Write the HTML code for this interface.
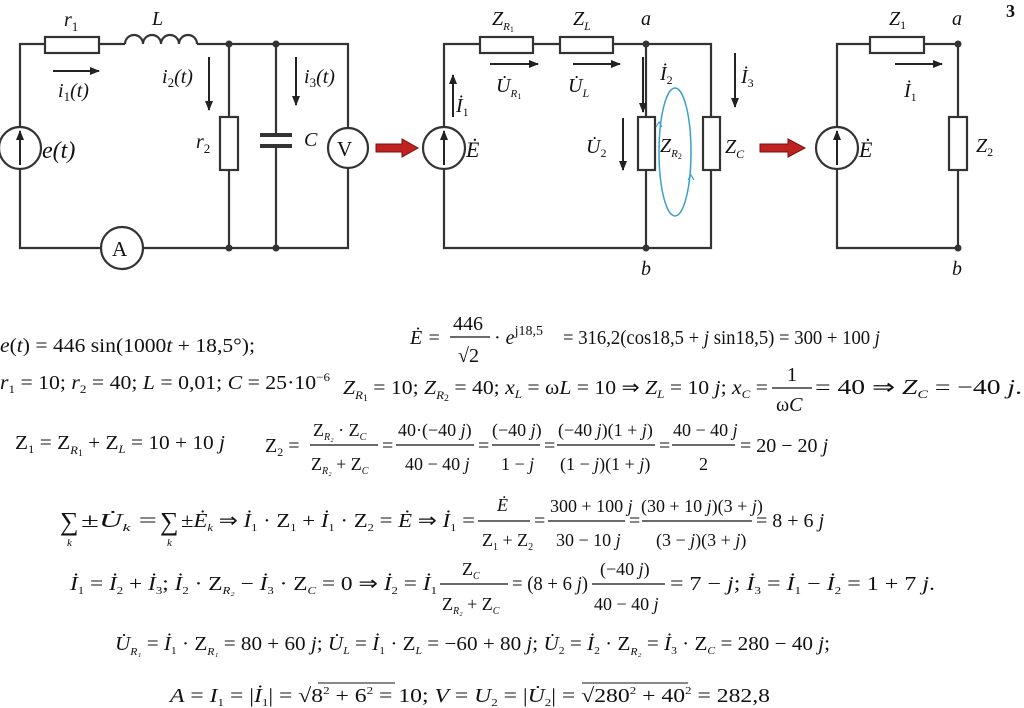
<!DOCTYPE html>
<html><head><meta charset="utf-8"><style>
html,body{margin:0;padding:0;background:#fff;}
svg{display:block;}
text{font-family:"Liberation Serif",serif;fill:#111;}
.i{font-style:italic;}
</style></head><body>
<svg width="1024" height="708" viewBox="0 0 1024 708" xmlns="http://www.w3.org/2000/svg">
<defs>
<marker id="ah" markerWidth="10" markerHeight="8" refX="9" refY="4" orient="auto" markerUnits="userSpaceOnUse"><path d="M0,0 L10,4 L0,8 Z" fill="#222"/></marker>
</defs>
<g stroke="#333" stroke-width="2.2" fill="none">
<path d="M20,127 V44 H45 M99,44 H125 M200,44 H348 V128 M348,168 V248 H143 M101,248 H20 V169"/>
<rect x="45" y="37" width="54" height="16" fill="#fff"/>
<path d="M125,44 a9,9 0 0 1 18,0 a9,9 0 0 1 18,0 a9,9 0 0 1 18,0 a9,9 0 0 1 18,0" />
<path d="M197,44 H200"/>
<path d="M229,44 V117 M229,170 V248 M276,44 V135 M276,146 V248"/>
<rect x="220" y="117" width="18" height="53" fill="#fff"/>
<path d="M260,135 H292 M260,146 H292" stroke-width="4"/>
<circle cx="20" cy="148" r="21" fill="#fff"/>
<circle cx="348" cy="148" r="20" fill="#fff"/>
<circle cx="122" cy="248" r="21" fill="#fff"/>
<path d="M444,127 V44 H480 M533,44 H560 M613,44 H711 V117 M711,170 V248 H444 V169 M646,44 V117 M646,170 V248"/>
<rect x="480" y="37" width="53" height="16" fill="#fff"/>
<rect x="560" y="37" width="53" height="16" fill="#fff"/>
<rect x="638" y="117" width="17" height="53" fill="#fff"/>
<rect x="703" y="117" width="17" height="53" fill="#fff"/>
<circle cx="444" cy="148" r="21" fill="#fff"/>
<path d="M837,127 V44 H870 M924,44 H958 V117 M958,170 V248 H837 V169"/>
<rect x="870" y="37" width="54" height="16" fill="#fff"/>
<rect x="949" y="117" width="18" height="53" fill="#fff"/>
<circle cx="837" cy="148" r="21" fill="#fff"/>
</g>
<g fill="#333">
<circle cx="229" cy="44" r="3.5"/><circle cx="276" cy="44" r="3.5"/><circle cx="229" cy="248" r="3.5"/><circle cx="276" cy="248" r="3.5"/>
<circle cx="646" cy="44" r="3.5"/><circle cx="646" cy="248" r="3.5"/><circle cx="958" cy="44" r="3.5"/><circle cx="958" cy="248" r="3.5"/>
</g>
<g stroke="#222" stroke-width="2" fill="none" marker-end="url(#ah)">
<path d="M20,165 V131"/><path d="M444,165 V131"/><path d="M837,165 V131"/>
<path d="M53,71 H99"/><path d="M209,57 V110"/><path d="M296,57 V105"/>
<path d="M453,117 V75"/><path d="M490,64 H538"/><path d="M573,64 H620"/>
<path d="M643,57 V112"/><path d="M735,53 V107"/><path d="M623,118 V170"/>
<path d="M895,64 H942"/>
</g>
<path d="M376,144 H402 V139 L418,148 L402,157 V152 H376 Z" fill="#c0221f" stroke="#7a1010" stroke-width="1"/>
<path d="M760,144 H788 V139 L805,148 L788,157 V152 H760 Z" fill="#c0221f" stroke="#7a1010" stroke-width="1"/>
<ellipse cx="675" cy="152" rx="16" ry="64" fill="none" stroke="#3aa0c8" stroke-width="1.5"/>
<path d="M656,127 l3,-5 l3,5" fill="none" stroke="#3aa0c8" stroke-width="1.2"/>
<path d="M688,180 l3,-5 l3,5" fill="none" stroke="#3aa0c8" stroke-width="1.2"/>

<g font-size="20">
<text x="64" y="26" class="i">r<tspan font-size="13" dy="5" font-style="normal">1</tspan></text>
<text x="152" y="25" class="i">L</text>
<text x="58" y="97" class="i">i<tspan font-size="13" dy="4" font-style="normal">1</tspan><tspan dy="-4">(t)</tspan></text>
<text x="162" y="83" class="i">i<tspan font-size="13" dy="4" font-style="normal">2</tspan><tspan dy="-4">(t)</tspan></text>
<text x="304" y="83" class="i">i<tspan font-size="13" dy="4" font-style="normal">3</tspan><tspan dy="-4">(t)</tspan></text>
<text x="196" y="148" class="i">r<tspan font-size="13" dy="5" font-style="normal">2</tspan></text>
<text x="304" y="146" class="i">C</text>
<text x="42" y="158" class="i" font-size="24">e(t)</text>
<text x="337" y="156" font-size="21">V</text>
<text x="112" y="256" font-size="21">A</text>
<text x="492" y="25" class="i">Z<tspan font-size="11" dy="5">R</tspan><tspan font-size="8" dy="2" font-style="normal">1</tspan></text>
<text x="573" y="25" class="i">Z<tspan font-size="12" dy="5">L</tspan></text>
<text x="641" y="25" class="i">a</text>
<text x="641" y="275" class="i">b</text>
<text x="456" y="112" class="i">İ<tspan font-size="12" dy="4" font-style="normal">1</tspan></text>
<text x="496" y="92" class="i">U̇<tspan font-size="11" dy="5">R</tspan><tspan font-size="8" dy="2" font-style="normal">1</tspan></text>
<text x="568" y="92" class="i">U̇<tspan font-size="12" dy="5">L</tspan></text>
<text x="660" y="80" class="i">İ<tspan font-size="12" dy="4" font-style="normal">2</tspan></text>
<text x="741" y="83" class="i">İ<tspan font-size="12" dy="4" font-style="normal">3</tspan></text>
<text x="586" y="153" class="i">U̇<tspan font-size="12" dy="4" font-style="normal">2</tspan></text>
<text x="660" y="152" class="i">Z<tspan font-size="11" dy="5">R</tspan><tspan font-size="8" dy="2" font-style="normal">2</tspan></text>
<text x="725" y="153" class="i">Z<tspan font-size="12" dy="5">C</tspan></text>
<text x="466" y="157" class="i" font-size="22">Ė</text>
<text x="889" y="25" class="i">Z<tspan font-size="12" dy="4" font-style="normal">1</tspan></text>
<text x="952" y="25" class="i">a</text>
<text x="952" y="275" class="i">b</text>
<text x="904" y="97" class="i">İ<tspan font-size="12" dy="4" font-style="normal">1</tspan></text>
<text x="859" y="157" class="i" font-size="22">Ė</text>
<text x="976" y="152" class="i">Z<tspan font-size="12" dy="4" font-style="normal">2</tspan></text>
<text x="1006" y="17" font-weight="bold" font-size="18">3</text>
</g>

<g font-size="20" stroke="none">
<text x="0" y="352" textLength="255" lengthAdjust="spacingAndGlyphs"><tspan class="i">e</tspan>(<tspan class="i">t</tspan>) = 446 sin(1000<tspan class="i">t</tspan> + 18,5°);</text>
<text x="0" y="389" textLength="330" lengthAdjust="spacingAndGlyphs"><tspan class="i">r</tspan><tspan font-size="12" dy="4">1</tspan><tspan dy="-4"> = 10; </tspan><tspan class="i">r</tspan><tspan font-size="12" dy="4">2</tspan><tspan dy="-4"> = 40; </tspan><tspan class="i">L</tspan> = 0,01; <tspan class="i">C</tspan> = 25·10<tspan font-size="12" dy="-8">−6</tspan></text>

<text x="410" y="344" class="i">Ė =</text>
<line x1="450" y1="337" x2="490" y2="337" stroke="#111" stroke-width="1.2"/>
<text x="453" y="330">446</text><text x="458" y="362">√2</text>
<text x="494" y="344">· <tspan class="i">e</tspan><tspan font-size="14" dy="-9">j18,5</tspan></text>
<text x="563" y="344" textLength="317" lengthAdjust="spacingAndGlyphs">= 316,2(cos18,5 + <tspan class="i">j</tspan> sin18,5) = 300 + 100 <tspan class="i">j</tspan></text>

<text x="343" y="394" textLength="425" lengthAdjust="spacingAndGlyphs"><tspan class="i">Z</tspan><tspan font-size="12" class="i" dy="5">R</tspan><tspan font-size="9" dy="2">1</tspan><tspan dy="-7"> = 10; </tspan><tspan class="i">Z</tspan><tspan font-size="12" class="i" dy="5">R</tspan><tspan font-size="9" dy="2">2</tspan><tspan dy="-7"> = 40; </tspan><tspan class="i">x</tspan><tspan font-size="12" class="i" dy="4">L</tspan><tspan dy="-4"> = ω</tspan><tspan class="i">L</tspan> = 10 ⇒ <tspan class="i">Z</tspan><tspan font-size="12" class="i" dy="4">L</tspan><tspan dy="-4"> = 10 </tspan><tspan class="i">j</tspan>; <tspan class="i">x</tspan><tspan font-size="12" class="i" dy="4">C</tspan><tspan dy="-4"> =</tspan></text>
<line x1="772" y1="388" x2="812" y2="388" stroke="#111" stroke-width="1.2"/>
<text x="787" y="381">1</text><text x="776" y="411">ω<tspan class="i">C</tspan></text>
<text x="815" y="394" font-size="21" textLength="207" lengthAdjust="spacingAndGlyphs">= 40 ⇒ <tspan class="i">Z</tspan><tspan font-size="12" class="i" dy="4">C</tspan><tspan dy="-4"> = −40 </tspan><tspan class="i">j</tspan>.</text>

<text x="15" y="449" textLength="210" lengthAdjust="spacingAndGlyphs">Z<tspan font-size="12" dy="4">1</tspan><tspan dy="-4"> = Z</tspan><tspan font-size="12" class="i" dy="5">R</tspan><tspan font-size="9" dy="2">1</tspan><tspan dy="-7"> + Z</tspan><tspan font-size="12" class="i" dy="4">L</tspan><tspan dy="-4"> = 10 + 10 </tspan><tspan class="i">j</tspan></text>

<text x="265" y="452">Z<tspan font-size="12" dy="4">2</tspan><tspan dy="-4"> =</tspan></text>
<line x1="310" y1="445" x2="378" y2="445" stroke="#111" stroke-width="1.2"/>
<text x="313" y="436" font-size="18">Z<tspan font-size="10" class="i" dy="4">R₂</tspan><tspan dy="-4"> · Z</tspan><tspan font-size="10" class="i" dy="4">C</tspan></text>
<text x="311" y="470" font-size="18">Z<tspan font-size="10" class="i" dy="4">R₂</tspan><tspan dy="-4"> + Z</tspan><tspan font-size="10" class="i" dy="4">C</tspan></text>
<text x="382" y="452">=</text>
<line x1="396" y1="445" x2="474" y2="445" stroke="#111" stroke-width="1.2"/>
<text x="398" y="436" font-size="18">40·(−40 <tspan class="i">j</tspan>)</text>
<text x="405" y="470" font-size="18">40 − 40 <tspan class="i">j</tspan></text>
<text x="478" y="452">=</text>
<line x1="492" y1="445" x2="540" y2="445" stroke="#111" stroke-width="1.2"/>
<text x="492" y="436" font-size="18">(−40 <tspan class="i">j</tspan>)</text>
<text x="501" y="470" font-size="18">1 − <tspan class="i">j</tspan></text>
<text x="544" y="452">=</text>
<line x1="557" y1="445" x2="655" y2="445" stroke="#111" stroke-width="1.2"/>
<text x="558" y="436" font-size="18">(−40 <tspan class="i">j</tspan>)(1 + <tspan class="i">j</tspan>)</text>
<text x="560" y="470" font-size="18">(1 − <tspan class="i">j</tspan>)(1 + <tspan class="i">j</tspan>)</text>
<text x="659" y="452">=</text>
<line x1="672" y1="445" x2="735" y2="445" stroke="#111" stroke-width="1.2"/>
<text x="673" y="436" font-size="18">40 − 40 <tspan class="i">j</tspan></text>
<text x="699" y="470" font-size="18">2</text>
<text x="740" y="452">= 20 − 20 <tspan class="i">j</tspan></text>

<text x="60" y="530" font-size="26">∑</text><text x="67" y="546" font-size="11" class="i">k</text>
<text x="160" y="530" font-size="26">∑</text><text x="167" y="546" font-size="11" class="i">k</text>
<text x="81" y="527" textLength="76" lengthAdjust="spacingAndGlyphs">±<tspan class="i">U̇</tspan><tspan font-size="11" class="i" dy="4">k</tspan><tspan dy="-4"> =</tspan></text>
<text x="181" y="527" textLength="294" lengthAdjust="spacingAndGlyphs">±<tspan class="i">Ė</tspan><tspan font-size="11" class="i" dy="4">k</tspan><tspan dy="-4"> ⇒ </tspan><tspan class="i">İ</tspan><tspan font-size="11" dy="4">1</tspan><tspan dy="-4"> · Z</tspan><tspan font-size="11" dy="4">1</tspan><tspan dy="-4"> + </tspan><tspan class="i">İ</tspan><tspan font-size="11" dy="4">1</tspan><tspan dy="-4"> · Z</tspan><tspan font-size="11" dy="4">2</tspan><tspan dy="-4"> = </tspan><tspan class="i">Ė</tspan> ⇒ <tspan class="i">İ</tspan><tspan font-size="11" dy="4">1</tspan><tspan dy="-4"> =</tspan></text>
<line x1="478" y1="521" x2="530" y2="521" stroke="#111" stroke-width="1.2"/>
<text x="497" y="511" class="i" font-size="18">Ė</text>
<text x="482" y="546" font-size="18">Z<tspan font-size="10" dy="4">1</tspan><tspan dy="-4"> + Z</tspan><tspan font-size="10" dy="4">2</tspan></text>
<text x="534" y="527">=</text>
<line x1="548" y1="521" x2="625" y2="521" stroke="#111" stroke-width="1.2"/>
<text x="550" y="512" font-size="18">300 + 100 <tspan class="i">j</tspan></text>
<text x="556" y="546" font-size="18">30 − 10 <tspan class="i">j</tspan></text>
<text x="629" y="527">=</text>
<line x1="642" y1="521" x2="752" y2="521" stroke="#111" stroke-width="1.2"/>
<text x="641" y="512" font-size="18">(30 + 10 <tspan class="i">j</tspan>)(3 + <tspan class="i">j</tspan>)</text>
<text x="656" y="546" font-size="18">(3 − <tspan class="i">j</tspan>)(3 + <tspan class="i">j</tspan>)</text>
<text x="756" y="527">= 8 + 6 <tspan class="i">j</tspan></text>

<text x="70" y="590" textLength="367" lengthAdjust="spacingAndGlyphs"><tspan class="i">İ</tspan><tspan font-size="11" dy="4">1</tspan><tspan dy="-4"> = </tspan><tspan class="i">İ</tspan><tspan font-size="11" dy="4">2</tspan><tspan dy="-4"> + </tspan><tspan class="i">İ</tspan><tspan font-size="11" dy="4">3</tspan><tspan dy="-4">; </tspan><tspan class="i">İ</tspan><tspan font-size="11" dy="4">2</tspan><tspan dy="-4"> · Z</tspan><tspan font-size="11" class="i" dy="4">R₂</tspan><tspan dy="-4"> − </tspan><tspan class="i">İ</tspan><tspan font-size="11" dy="4">3</tspan><tspan dy="-4"> · Z</tspan><tspan font-size="11" class="i" dy="4">C</tspan><tspan dy="-4"> = 0 ⇒ </tspan><tspan class="i">İ</tspan><tspan font-size="11" dy="4">2</tspan><tspan dy="-4"> = </tspan><tspan class="i">İ</tspan><tspan font-size="11" dy="4">1</tspan></text>
<line x1="440" y1="584" x2="508" y2="584" stroke="#111" stroke-width="1.2"/>
<text x="462" y="575" font-size="18">Z<tspan font-size="10" class="i" dy="4">C</tspan></text>
<text x="442" y="610" font-size="18">Z<tspan font-size="10" class="i" dy="4">R₂</tspan><tspan dy="-4"> + Z</tspan><tspan font-size="10" class="i" dy="4">C</tspan></text>
<text x="512" y="590" textLength="76" lengthAdjust="spacingAndGlyphs">= (8 + 6 <tspan class="i">j</tspan>)</text>
<line x1="592" y1="584" x2="665" y2="584" stroke="#111" stroke-width="1.2"/>
<text x="600" y="575" font-size="18">(−40 <tspan class="i">j</tspan>)</text>
<text x="594" y="610" font-size="18">40 − 40 <tspan class="i">j</tspan></text>
<text x="670" y="590" textLength="265" lengthAdjust="spacingAndGlyphs">= 7 − <tspan class="i">j</tspan>; <tspan class="i">İ</tspan><tspan font-size="11" dy="4">3</tspan><tspan dy="-4"> = </tspan><tspan class="i">İ</tspan><tspan font-size="11" dy="4">1</tspan><tspan dy="-4"> − </tspan><tspan class="i">İ</tspan><tspan font-size="11" dy="4">2</tspan><tspan dy="-4"> = 1 + 7 </tspan><tspan class="i">j</tspan>.</text>

<text x="115" y="650" textLength="715" lengthAdjust="spacingAndGlyphs"><tspan class="i">U̇</tspan><tspan font-size="11" class="i" dy="5">R₁</tspan><tspan dy="-5"> = </tspan><tspan class="i">İ</tspan><tspan font-size="11" dy="4">1</tspan><tspan dy="-4"> · Z</tspan><tspan font-size="11" class="i" dy="5">R₁</tspan><tspan dy="-5"> = 80 + 60 </tspan><tspan class="i">j</tspan>; <tspan class="i">U̇</tspan><tspan font-size="11" class="i" dy="4">L</tspan><tspan dy="-4"> = </tspan><tspan class="i">İ</tspan><tspan font-size="11" dy="4">1</tspan><tspan dy="-4"> · Z</tspan><tspan font-size="11" class="i" dy="4">L</tspan><tspan dy="-4"> = −60 + 80 </tspan><tspan class="i">j</tspan>; <tspan class="i">U̇</tspan><tspan font-size="11" dy="4">2</tspan><tspan dy="-4"> = </tspan><tspan class="i">İ</tspan><tspan font-size="11" dy="4">2</tspan><tspan dy="-4"> · Z</tspan><tspan font-size="11" class="i" dy="5">R₂</tspan><tspan dy="-5"> = </tspan><tspan class="i">İ</tspan><tspan font-size="11" dy="4">3</tspan><tspan dy="-4"> · Z</tspan><tspan font-size="11" class="i" dy="4">C</tspan><tspan dy="-4"> = 280 − 40 </tspan><tspan class="i">j</tspan>;</text>

<text x="170" y="702" textLength="600" lengthAdjust="spacingAndGlyphs"><tspan class="i">A</tspan> = <tspan class="i">I</tspan><tspan font-size="11" dy="4">1</tspan><tspan dy="-4"> = |</tspan><tspan class="i">İ</tspan><tspan font-size="11" dy="4">1</tspan><tspan dy="-4">| = √</tspan>8<tspan font-size="11" dy="-8">2</tspan><tspan dy="8"> + 6</tspan><tspan font-size="11" dy="-8">2</tspan><tspan dy="8"> = 10; </tspan><tspan class="i">V</tspan> = <tspan class="i">U</tspan><tspan font-size="11" dy="4">2</tspan><tspan dy="-4"> = |</tspan><tspan class="i">U̇</tspan><tspan font-size="11" dy="4">2</tspan><tspan dy="-4">| = √</tspan>280<tspan font-size="11" dy="-8">2</tspan><tspan dy="8"> + 40</tspan><tspan font-size="11" dy="-8">2</tspan><tspan dy="8"> = 282,8</tspan></text>
<line x1="318" y1="683" x2="395" y2="683" stroke="#111" stroke-width="1"/>
<line x1="582" y1="683" x2="688" y2="683" stroke="#111" stroke-width="1"/>
</g>
</svg>
</body></html>
